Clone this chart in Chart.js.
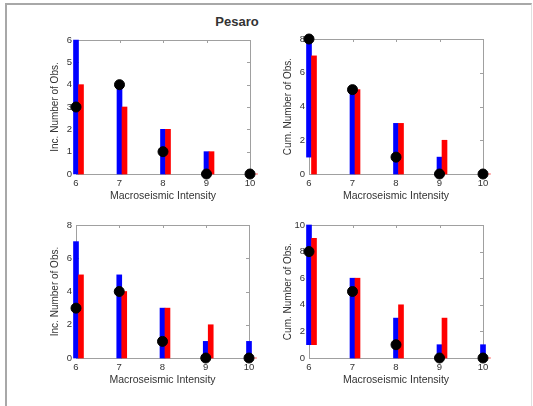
<!DOCTYPE html>
<html lang="en">
<head>
<meta charset="UTF-8">
<title>Pesaro</title>
<script src="https://cdn.jsdelivr.net/npm/chart.js@4.4.0/dist/chart.umd.min.js"></script>
<style>
  html, body { margin: 0; padding: 0; background: #fff; }
  #fig {
    position: relative; width: 533px; height: 406px; overflow: hidden;
    font-family: "Liberation Sans", Arial, sans-serif;
  }
  #frame {
    position: absolute; left: 5px; top: 3px; right: 1px; bottom: -4px;
    border-top: 2px solid #a8a8a8; border-left: 2px solid #a8a8a8; border-right: 1px solid #e0e0e0;
  }
  #title {
    position: absolute; left: 187px; width: 100px; top: 14px; text-align: center;
    font-size: 13px; font-weight: bold; color: #333;
  }
  .panel { position: absolute; }
</style>
</head>
<body>
<div id="fig">
  <div id="frame"></div>
  <div id="title">Pesaro</div>
  <div class="panel" id="p1"><canvas id="c1"></canvas></div>
  <div class="panel" id="p2"><canvas id="c2"></canvas></div>
  <div class="panel" id="p3"><canvas id="c3"></canvas></div>
  <div class="panel" id="p4"><canvas id="c4"></canvas></div>
</div>

<script>
// intensity classes on the x axis
const intensity = [6, 7, 8, 9, 10];

// top row
const incBlueTop = [6, 4, 2, 1, 0];
const incRedTop  = [4, 3, 2, 1, 0];
const incDotsTop = [3, 4, 1, 0, 0];
const cumBlueTop = [[1, 8], 5, 3, 1, 0];
const cumRedTop  = [7, 5, 3, 2, 0];
const cumDotsTop = [8, 5, 1, 0, 0];

// bottom row
const incBlueBot = [7, 5, 3, 1, 1];
const incRedBot  = [5, 4, 3, 2, 0];
const incDotsBot = [3, 4, 1, 0, 0];
const cumBlueBot = [[1, 10], 6, 3, 1, 1];
const cumRedBot  = [[1, 9], 6, 4, 3, 0];
const cumDotsBot = [8, 5, 1, 0, 0];

const FONT = '"Liberation Sans", Arial, sans-serif';
const TEXT = '#333';
const BOX = '#a0a0a0';
const RED_SHIFT = 0.115;   // red bar sits just right of the blue one

// box around the axes with small inward ticks on all four sides
const boxPlugin = {
  id: 'box',
  beforeDatasetsDraw(chart) {
    const { ctx, chartArea: a, scales } = chart;
    ctx.save();
    ctx.strokeStyle = BOX;
    ctx.lineWidth = 1;
    ctx.strokeRect(a.left + 0.5, a.top + 0.5, a.right - a.left, a.bottom - a.top);
    ctx.beginPath();
    scales.x.ticks.forEach(t => {
      const px = Math.round(scales.x.getPixelForValue(t.value)) + 0.5;
      ctx.moveTo(px, a.bottom); ctx.lineTo(px, a.bottom - 3);
      ctx.moveTo(px, a.top); ctx.lineTo(px, a.top + 3);
    });
    scales.y.ticks.forEach(t => {
      const py = Math.round(scales.y.getPixelForValue(t.value)) + 0.5;
      ctx.moveTo(a.left, py); ctx.lineTo(a.left + 3, py);
      ctx.moveTo(a.right, py); ctx.lineTo(a.right - 3, py);
    });
    ctx.stroke();
    ctx.restore();
  }
};

function toPoints(xs, ys, shift) {
  return xs.map((x, i) => ({ x: x + shift, y: ys[i] }));
}

function makePanel(n, area, yLabel, yMax, yStep, blue, red, dots) {
  const left = area.left - 36, top = area.top - 12;
  const width = area.right - left + 15, height = area.bottom - top + 30 + 5;
  const box = document.getElementById('p' + n);
  box.style.left = left + 'px';
  box.style.top = top + 'px';
  box.style.width = width + 'px';
  box.style.height = height + 'px';

  new Chart(document.getElementById('c' + n), {
    type: 'bar',
    data: {
      datasets: [
        {
          type: 'scatter', data: toPoints(intensity, dots, 0),
          pointRadius: 5, pointHoverRadius: 5, pointBackgroundColor: '#000',
          pointBorderColor: '#000', clip: false, order: 0
        },
        {
          data: toPoints(intensity, blue, 0), backgroundColor: '#0000ff',
          barThickness: 5, grouped: false, clip: false, order: 2
        },
        {
          data: toPoints(intensity, red, RED_SHIFT), backgroundColor: '#ff0000',
          barThickness: 5, grouped: false, clip: false, order: 1
        }
      ]
    },
    options: {
      responsive: true, maintainAspectRatio: false, animation: false,
      layout: { padding: { top: 12, right: 15, bottom: 5, left: 0 } },
      plugins: { legend: { display: false }, tooltip: { enabled: false } },
      scales: {
        x: {
          type: 'linear', min: 6, max: 10, offset: false,
          grid: { display: false, drawTicks: false }, border: { display: false },
          ticks: { stepSize: 1, padding: 4, color: TEXT, font: { family: FONT, size: 9.5 } },
          title: { display: true, text: 'Macroseismic Intensity', color: TEXT,
                   font: { family: FONT, size: 10.5 }, padding: { top: 0, bottom: 2 } },
          afterFit(s) { s.height = 30; }
        },
        y: {
          min: 0, max: yMax,
          grid: { display: false, drawTicks: false }, border: { display: false },
          ticks: { stepSize: yStep, padding: 4, color: TEXT, font: { family: FONT, size: 9.5 } },
          title: { display: true, text: yLabel, color: TEXT,
                   font: { family: FONT, size: 10 }, padding: { top: 9, bottom: 0 } },
          afterFit(s) { s.width = 36; }
        }
      }
    },
    plugins: [boxPlugin]
  });
}

makePanel(1, { left: 76, right: 250, top: 40, bottom: 174 }, 'Inc. Number of Obs.', 6, 1,
  incBlueTop, incRedTop, incDotsTop);
makePanel(2, { left: 309, right: 483, top: 39, bottom: 174 }, 'Cum. Number of Obs.', 8, 2,
  cumBlueTop, cumRedTop, cumDotsTop);
makePanel(3, { left: 76, right: 249, top: 225, bottom: 358 }, 'Inc. Number of Obs.', 8, 2,
  incBlueBot, incRedBot, incDotsBot);
makePanel(4, { left: 309, right: 483, top: 225, bottom: 358 }, 'Cum. Number of Obs.', 10, 2,
  cumBlueBot, cumRedBot, cumDotsBot);
</script>
</body>
</html>
